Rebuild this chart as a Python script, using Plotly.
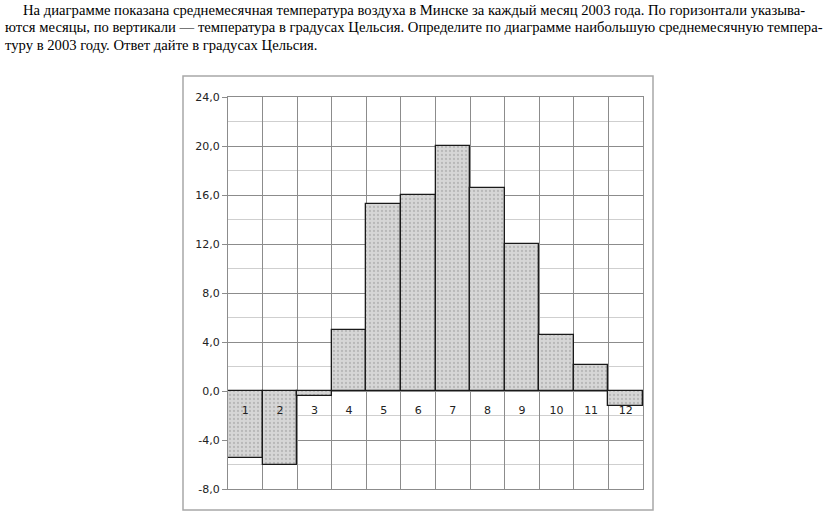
import plotly.graph_objects as go

months = [1, 2, 3, 4, 5, 6, 7, 8, 9, 10, 11, 12]
month_labels = ["1", "2", "3", "4", "5", "6", "7", "8", "9", "10", "11", "12"]
temps = [-5.5, -6.0, -0.4, 5.0, 15.3, 16.0, 20.0, 16.6, 12.0, 4.6, 2.1, -1.2]
y_ticks = [-8, -4, 0, 4, 8, 12, 16, 20, 24]
y_tick_text = ["-8,0", "-4,0", "0,0", "4,0", "8,0", "12,0", "16,0", "20,0", "24,0"]
label_y = [-1.65] * 12

text_lines = [
    "На диаграмме показана среднемесячная температура воздуха в Минске за каждый месяц 2003 года. По горизонтали указыва-",
    "ются месяцы, по вертикали — температура в градусах Цельсия. Определите по диаграмме наибольшую среднемесячную темпера-",
    "туру в 2003 году. Ответ дайте в градусах Цельсия.",
]

fig = go.Figure()
fig.add_trace(go.Bar(
    x=months, y=temps, width=1.0,
    marker=dict(
        color="#d6d6d6",
        line=dict(color="#1a1a1a", width=1.3),
        pattern=dict(shape=".", fgcolor="#9a9a9a", bgcolor="#d6d6d6", size=4, solidity=0.25),
    ),
    hoverinfo="skip",
))
fig.add_trace(go.Scatter(
    x=months, y=label_y, mode="text", text=month_labels,
    textfont=dict(family="DejaVu Sans", size=11, color="#222222"),
    hoverinfo="skip",
))

L, R, T, B = 228, 188, 97, 36
fig.update_layout(
    width=831, height=525,
    margin=dict(l=L, r=R, t=T, b=B),
    paper_bgcolor="white", plot_bgcolor="white",
    showlegend=False, bargap=0,
    xaxis=dict(
        range=[0.5, 12.5], tickvals=[m + 0.5 for m in months[:-1]],
        showticklabels=False, ticks="", showgrid=True, gridcolor="#8c8c8c", gridwidth=1,
        zeroline=False, showline=True, linecolor="#8c8c8c", linewidth=1, mirror=True,
    ),
    yaxis=dict(
        range=[-8, 24], tickvals=y_ticks, ticktext=y_tick_text,
        showgrid=True, gridcolor="#8c8c8c", gridwidth=1,
        minor=dict(dtick=2, tick0=0, showgrid=True, gridcolor="#cfcfcf", gridwidth=1, ticks=""),
        ticks="outside", ticklen=5, tickcolor="#8c8c8c",
        tickfont=dict(family="DejaVu Sans", size=11, color="#222222"),
        zeroline=False, showline=True, linecolor="#8c8c8c", linewidth=1, mirror=True,
    ),
    font=dict(family="DejaVu Sans"),
)

pw, ph = 831 - L - R, 525 - T - B
def px_to_paper_x(px):
    return (px - L) / pw
def px_to_paper_y(py):
    return (525 - B - py) / ph

fig.add_shape(type="rect", xref="paper", yref="paper",
              x0=px_to_paper_x(183), x1=px_to_paper_x(653),
              y0=px_to_paper_y(510), y1=px_to_paper_y(76),
              line=dict(color="#a8a8a8", width=1.5), layer="below")

line_y = [10, 27.5, 45]
line_x = [21, 3, 3]
for txt, lx, ly in zip(text_lines, line_x, line_y):
    fig.add_annotation(text=txt, xref="paper", yref="paper",
                       x=px_to_paper_x(lx), y=px_to_paper_y(ly),
                       xanchor="left", yanchor="middle", showarrow=False,
                       font=dict(family="Liberation Serif", size=14.67, color="#000000"))

fig.write_html("out.html")
